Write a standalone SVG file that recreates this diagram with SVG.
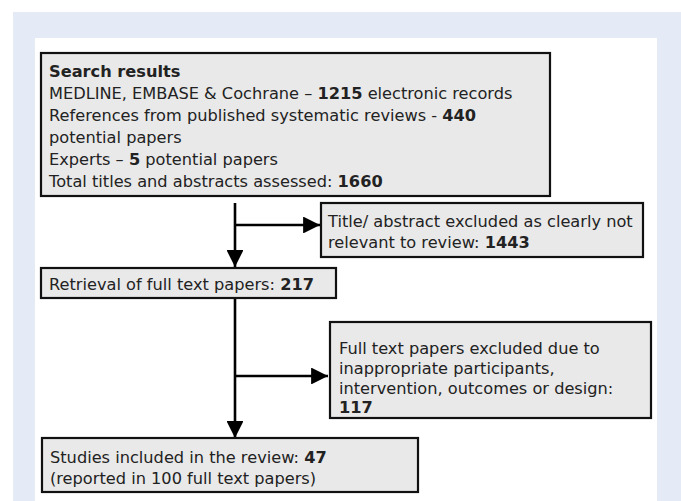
<svg xmlns="http://www.w3.org/2000/svg" width="681" height="501" viewBox="0 0 681 501">
<defs>
<style>
.box{fill:#e9e9e9;stroke:#111;stroke-width:2.2}
text{font-family:"DejaVu Sans",Verdana,sans-serif;font-size:16.2px;fill:#222}
.b{font-weight:bold}
.ln{stroke:#000;stroke-width:2.6;fill:none}
</style>
<marker id="ah" viewBox="0 0 10 10" refX="10" refY="5" markerWidth="6.5" markerHeight="6.5" markerUnits="strokeWidth" orient="auto">
<path d="M0,0 L10,5 L0,10 Z" fill="#000"/>
</marker>
</defs>
<rect x="0" y="0" width="681" height="501" fill="#fff"/>
<rect x="13" y="12" width="668" height="489" fill="#e4eaf6"/>
<rect x="35" y="38" width="622" height="463" fill="#fff"/>

<g id="connectors">
<line class="ln" x1="235" y1="203" x2="235" y2="267" marker-end="url(#ah)"/>
<line class="ln" x1="235" y1="225" x2="320" y2="225" marker-end="url(#ah)"/>
<line class="ln" x1="235" y1="298" x2="235" y2="438" marker-end="url(#ah)"/>
<line class="ln" x1="235" y1="376" x2="328" y2="376" marker-end="url(#ah)"/>
</g>

<g id="search">
<rect class="box" x="41" y="53" width="509" height="143"/>
<text x="49" y="77" class="b">Search results</text>
<text x="49" y="99">MEDLINE, EMBASE &amp; Cochrane – <tspan class="b">1215</tspan> electronic records</text>
<text x="49" y="121">References from published systematic reviews - <tspan class="b">440</tspan></text>
<text x="49" y="143">potential papers</text>
<text x="49" y="165">Experts – <tspan class="b">5</tspan> potential papers</text>
<text x="49" y="187">Total titles and abstracts assessed: <tspan class="b">1660</tspan></text>
</g>

<g id="excluded1">
<rect class="box" x="321" y="203" width="322" height="54"/>
<text x="328" y="227">Title/ abstract excluded as clearly not</text>
<text x="328" y="248">relevant to review: <tspan class="b">1443</tspan></text>
</g>

<g id="retrieval">
<rect class="box" x="41" y="268" width="295" height="30"/>
<text x="49" y="290">Retrieval of full text papers: <tspan class="b">217</tspan></text>
</g>

<g id="excluded2">
<rect class="box" x="330" y="322" width="321" height="96"/>
<text x="339" y="354">Full text papers excluded due to</text>
<text x="339" y="374">inappropriate participants,</text>
<text x="339" y="394">intervention, outcomes or design:</text>
<text x="339" y="413" class="b">117</text>
</g>

<g id="included">
<rect class="box" x="42" y="438" width="376" height="54"/>
<text x="50" y="463">Studies included in the review: <tspan class="b">47</tspan></text>
<text x="50" y="484">(reported in 100 full text papers)</text>
</g>
</svg>
